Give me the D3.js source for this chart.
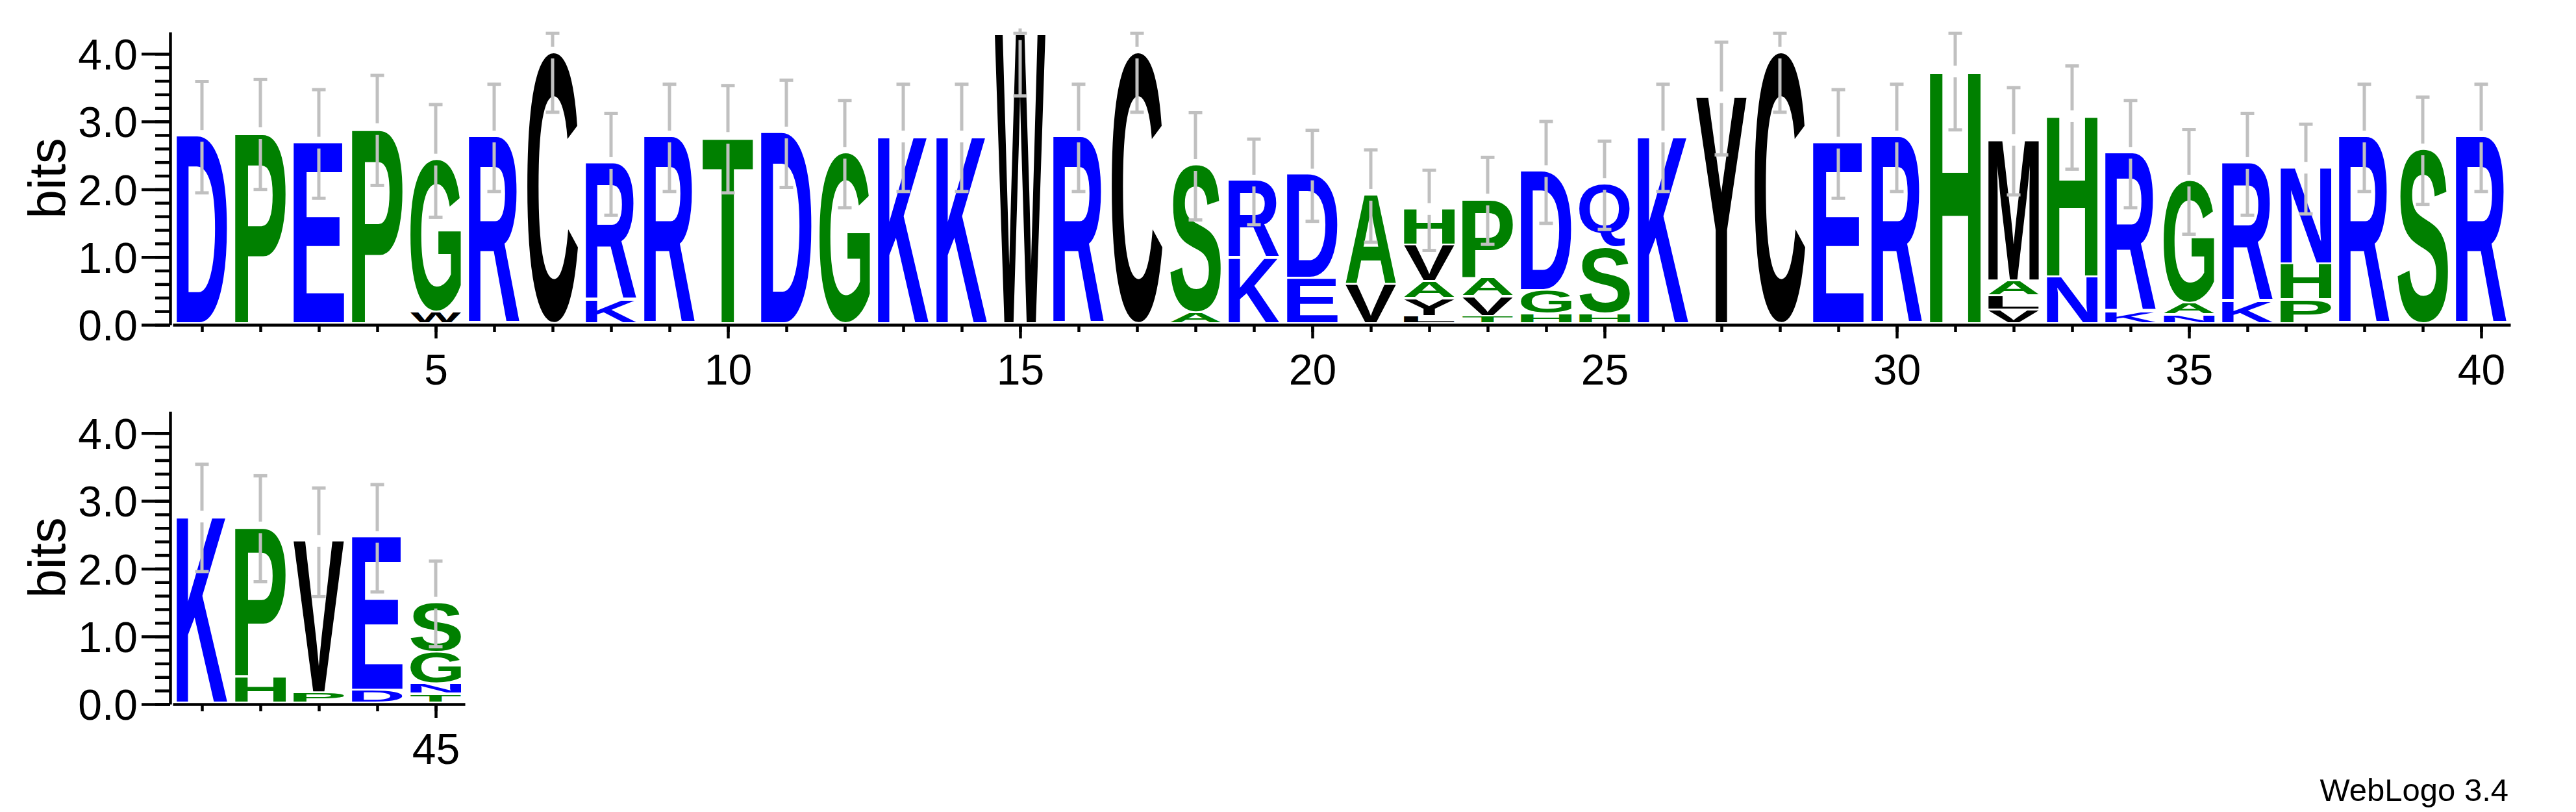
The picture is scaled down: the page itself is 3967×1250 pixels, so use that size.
<!DOCTYPE html>
<html><head><meta charset="utf-8">
<script src="https://cdn.jsdelivr.net/npm/d3@7"></script>
<style>html,body{margin:0;padding:0;background:#fff;} svg{display:block}</style>
</head><body>
<svg id="chart" width="3967" height="1250"></svg>
<script>
// ---------------- data ----------------
const positions = d3.range(1, 46);
// letters of each stack, bottom -> top
const stackLetters = [
  ["D"],["P"],["E"],["P"],["W","G"],["R"],["C"],["K","R"],["R"],["T"],
  ["D"],["G"],["K"],["K"],["W"],["R"],["C"],["A","S"],["K","R"],["E","D"],
  ["V","A"],["L","Y","A","V","H"],["T","V","A","P"],["H","G","D"],["H","S","Q"],["K"],["Y"],["C"],["E"],["R"],
  ["H"],["V","L","A","M"],["N","H"],["K","R"],["N","A","G"],["K","R"],["P","H","N"],["R"],["S"],["R"],
  ["K"],["H","P"],["P","V"],["D","E"],["T","N","G","S"]
];
// heights in bits of each letter, bottom -> top
const stackHeights = [
  [2.75],[2.79],[2.65],[2.85],[0.17,2.23],[2.74],[3.98],[0.35,2.00],[2.74],[2.72],
  [2.80],[2.50],[2.74],[2.74],[4.25],[2.74],[3.98],[0.16,2.16],[0.97,1.12],[0.67,1.51],
  [0.58,1.30],[0.11,0.26,0.25,0.54,0.51],[0.11,0.29,0.27,1.14],[0.14,0.35,1.74],[0.14,0.98,0.92],[2.74],[3.32],[3.98],[2.65],[2.74],
  [3.70],[0.20,0.21,0.22,2.06],[0.69,2.35],[0.18,2.32],[0.13,0.17,1.79],[0.33,2.02],[0.35,0.53,1.40],[2.74],[2.55],[2.74],
  [2.73],[0.39,2.18],[0.15,2.22],[0.19,2.24],[0.13,0.15,0.47,0.71]
];
// error bar half-length in bits
const errorHalf = [
  0.86,0.85,0.84,0.85,0.87,0.83,0.90,0.79,0.83,0.83,
  0.83,0.83,0.83,0.83,0.93,0.83,0.90,0.83,0.67,0.71,
  0.72,0.63,0.68,0.79,0.69,0.83,0.87,0.90,0.84,0.83,
  0.88,0.83,0.80,0.83,0.81,0.79,0.70,0.83,0.83,0.83,
  0.83,0.82,0.84,0.83,0.67
];
const yTickValues = [0, 1, 2, 3, 4];
const yTickLabels = ["0.0", "1.0", "2.0", "3.0", "4.0"];
const yMinorTicks = d3.range(0, 4.01, 0.2);
const xLabelPositions = [5, 10, 15, 20, 25, 30, 35, 40, 45];
const colourGroups = ["hydrophilic", "neutral", "hydrophobic"];
const groupLetters = {hydrophilic: "RKDENQ", neutral: "SGHTAP", hydrophobic: "YVMCLFIW"};
const yAxisTitle = "bits";
const versionText = "WebLogo 3.4";

// ---------------- layout ----------------
const perRow = 40, rowOffset = 584;
const maxBits = Math.log2(20);
const pxPerBit = 104.3;
const y = d3.scaleLinear().domain([0, maxBits]).range([500, 500 - maxBits * pxPerBit]);
const colour = d3.scaleOrdinal().domain(colourGroups).range(["#0000ff", "#008000", "#000000"]);
const groupOf = ch => colourGroups.find(g => groupLetters[g].includes(ch));
const letterLift = 4, letterW = 78, stackGap = 3;
const fontFamily = "'Liberation Sans', Arial, Helvetica, sans-serif";

const svg = d3.select("#chart");
svg.append("rect").attr("width", 3967).attr("height", 1250).attr("fill", "#fff");

// glyph ink measurement
const cvs = document.createElement("canvas").getContext("2d");
const refSize = 200;
cvs.font = `bold ${refSize}px 'Liberation Sans', Arial, sans-serif`;
const inkCache = {};
function ink(ch) {
  if (!inkCache[ch]) {
    const m = cvs.measureText(ch);
    inkCache[ch] = {l: m.actualBoundingBoxLeft, r: m.actualBoundingBoxRight,
                    a: m.actualBoundingBoxAscent, d: m.actualBoundingBoxDescent};
  }
  return inkCache[ch];
}

const nRows = Math.ceil(positions.length / perRow);
for (let r = 0; r < nRows; r++) {
  const rowPos = positions.filter(p => Math.floor((p - 1) / perRow) === r);
  const n = rowPos.length;
  const x = d3.scaleLinear().domain([0.5, n + 0.5]).range([266, 266 + n * 90]);
  const g = svg.append("g").attr("transform", `translate(0,${r * rowOffset})`);
  const local = p => p - r * perRow;

  // y axis: minor ticks
  g.append("g").attr("transform", "translate(262,0)")
    .call(d3.axisLeft(y).tickValues(yMinorTicks).tickSize(23).tickSizeOuter(0).tickFormat(""))
    .call(a => a.select(".domain").remove())
    .call(a => a.selectAll("line").attr("stroke", "#000").attr("stroke-width", 4.5));
  // y axis: major ticks + labels
  g.append("g").attr("transform", "translate(262,0)")
    .call(d3.axisLeft(y).tickValues(yTickValues).tickSize(44).tickSizeOuter(0).tickPadding(6)
      .tickFormat((d, i) => yTickLabels[i]))
    .call(a => a.select(".domain").attr("stroke", "#000").attr("stroke-width", 4.5))
    .call(a => a.selectAll("line").attr("stroke", "#000").attr("stroke-width", 4.5))
    .call(a => a.selectAll("text").attr("fill", "#000").attr("font-size", 66)
      .attr("font-family", fontFamily).attr("dy", "0.36em"));

  // y title
  g.append("text").attr("transform", `translate(100,${(y(0) + y(maxBits)) / 2}) rotate(-90)`)
    .attr("text-anchor", "middle").attr("font-family", fontFamily).attr("font-size", 80)
    .text(yAxisTitle);

  // x axis minor ticks
  g.append("g").attr("transform", `translate(0,${y(0)})`)
    .call(d3.axisBottom(x).tickValues(rowPos.map(local)).tickSize(11).tickSizeOuter(0).tickFormat(""))
    .call(a => a.select(".domain").attr("stroke", "#000").attr("stroke-width", 4.6))
    .call(a => a.selectAll("line").attr("stroke", "#000").attr("stroke-width", 4.5));
  // x axis major ticks + labels
  g.append("g").attr("transform", `translate(0,${y(0)})`)
    .call(d3.axisBottom(x).tickValues(xLabelPositions.filter(p => rowPos.includes(p)).map(local))
      .tickSize(21).tickSizeOuter(0).tickPadding(24).tickFormat(d => String(d + r * perRow)))
    .call(a => a.select(".domain").remove())
    .call(a => a.selectAll("line").attr("stroke", "#000").attr("stroke-width", 4.5))
    .call(a => a.selectAll("text").attr("fill", "#000").attr("font-size", 66).attr("font-family", fontFamily));

  // stacks
  rowPos.forEach(p => {
    const idx = p - 1;
    const letters = stackLetters[idx], hs = stackHeights[idx];
    const cx = x(local(p));
    let cum = 0;
    const sg = g.append("g");
    letters.forEach((ch, k) => {
      const bottom = y(cum) - letterLift;
      cum += hs[k];
      const top = y(cum) - letterLift + (k < letters.length - 1 ? stackGap : 0);
      const m = ink(ch);
      const sx = letterW / (m.l + m.r);
      const sy = (bottom - top) / (m.a + m.d);
      const x0 = cx - letterW / 2;
      sg.append("text")
        .attr("transform", `translate(${x0 + m.l * sx},${bottom - m.d * sy}) scale(${sx},${sy})`)
        .attr("font-family", fontFamily).attr("font-weight", "bold").attr("font-size", refSize)
        .attr("fill", colour(groupOf(ch)))
        .text(ch);
    });
    // error bar
    const total = d3.sum(hs);
    const e = errorHalf[idx];
    const cY = y(total) - letterLift;
    const lo = y(Math.max(0, total - e)) - letterLift;
    const hi = Math.max(y(Math.min(maxBits, total + e)), y(maxBits));
    const eg = g.append("g").attr("stroke", "#c0c0c0").attr("stroke-width", 5);
    eg.append("line").attr("x1", cx).attr("x2", cx).attr("y1", hi).attr("y2", cY - 9);
    eg.append("line").attr("x1", cx).attr("x2", cx).attr("y1", cY + 9).attr("y2", lo);
    eg.append("line").attr("x1", cx - 10.5).attr("x2", cx + 10.5).attr("y1", hi + 2).attr("y2", hi + 2);
    eg.append("line").attr("x1", cx - 10.5).attr("x2", cx + 10.5).attr("y1", lo - 2).attr("y2", lo - 2);
  });
}

svg.append("text").attr("x", 3863).attr("y", 1233).attr("text-anchor", "end")
  .attr("font-family", fontFamily).attr("font-size", 49).text(versionText);
</script>
</body></html>
